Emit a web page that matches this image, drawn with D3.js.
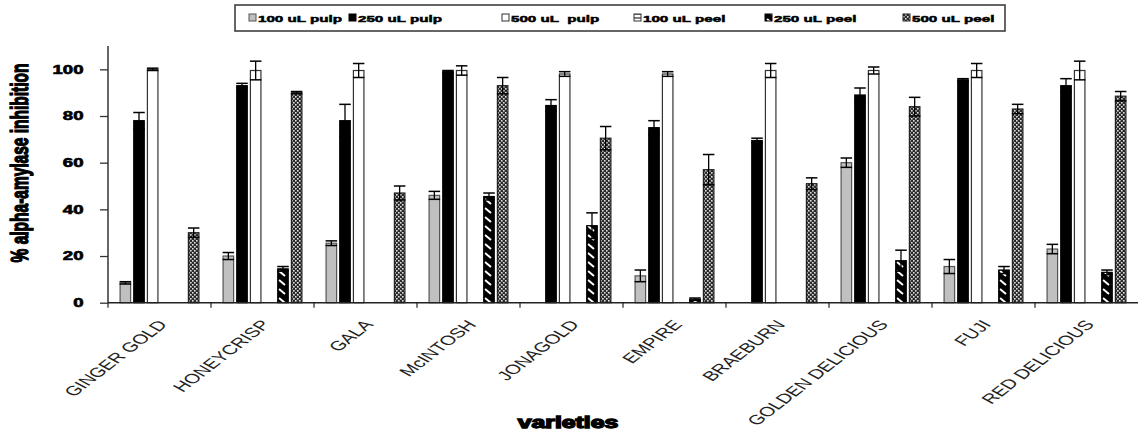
<!DOCTYPE html>
<html>
<head>
<meta charset="utf-8">
<script src="https://cdn.jsdelivr.net/npm/d3@7"></script>
<style>
  body { margin: 0; background: #fff; }
  text { font-family: "Liberation Sans", Arial, sans-serif; }
</style>
</head>
<body>
<div id="chart"></div>
<script>
// values
var varieties = ['GINGER GOLD', 'HONEYCRISP', 'GALA', 'McINTOSH', 'JONAGOLD', 'EMPIRE', 'BRAEBURN', 'GOLDEN DELICIOUS', 'FUJI', 'RED DELICIOUS'];
var seriesNames = ['100 uL pulp', '250 uL pulp', '500 uL  pulp', '100 uL peel', '250 uL peel', '500 uL peel'];

var pulp100 = [8.5, 20, 25.5, 46, 0, 11.5, 0, 60, 15.5, 23];
var pulp100Err = [0.5, 1.5, 1, 1.7, 0, 2.5, 0, 2, 3, 2];
var pulp250 = [78, 93, 78, 99, 84.5, 75, 69.5, 89, 95.5, 93];
var pulp250Err = [3.5, 1, 7, 0.5, 2.5, 3, 1, 3, 0.5, 3];
var pulp500 = [100, 99.5, 99.5, 99.5, 98, 98, 99.5, 99.5, 99.5, 99.5];
var pulp500Err = [0.5, 4, 3, 2, 1, 1, 3, 1.5, 3, 4];
var peel100 = [0, 0, 0, 0, 0, 0, 0, 0, 0, 0];
var peel100Err = [0, 0, 0, 0, 0, 0, 0, 0, 0, 0];
var peel250 = [0, 14.5, 0, 45.5, 33, 1.5, 0, 18, 14, 13];
var peel250Err = [0, 1, 0, 1.5, 5.5, 0.5, 0, 4.5, 1.5, 1];
var peel500 = [30, 90, 47, 93, 70.5, 57, 51, 84, 83, 88.5];
var peel500Err = [2, 0.5, 3, 3.5, 5, 6.5, 2.5, 4, 2, 2];

var yTicks = [0, 20, 40, 60, 80, 100];

var values = [pulp100, pulp250, pulp500, peel100, peel250, peel500];
var errors = [pulp100Err, pulp250Err, pulp500Err, peel100Err, peel250Err, peel500Err];

var w = 1138, h = 434;
var sx = 1.55; // the picture is stretched sideways, so is the text

var svg = d3.select('#chart').append('svg')
  .attr('width', w)
  .attr('height', h);

// fills
var defs = svg.append('defs');

var stripes = defs.append('pattern')
  .attr('id', 'stripes')
  .attr('patternUnits', 'userSpaceOnUse')
  .attr('width', 11).attr('height', 9);
stripes.append('rect').attr('width', 11).attr('height', 9).attr('fill', '#000');
stripes.append('line')
  .attr('x1', 2).attr('y1', 1).attr('x2', 8).attr('y2', 6)
  .attr('stroke', '#fff').attr('stroke-width', 2);

var checks = defs.append('pattern')
  .attr('id', 'checks')
  .attr('patternUnits', 'userSpaceOnUse')
  .attr('width', 4).attr('height', 4);
checks.append('rect').attr('width', 4).attr('height', 4).attr('fill', '#2a2a2a');
checks.append('rect').attr('x', 0).attr('y', 0).attr('width', 1.6).attr('height', 1.6).attr('fill', '#e0e0e0');
checks.append('rect').attr('x', 2).attr('y', 2).attr('width', 1.6).attr('height', 1.6).attr('fill', '#e0e0e0');

var hlines = defs.append('pattern')
  .attr('id', 'hlines')
  .attr('patternUnits', 'userSpaceOnUse')
  .attr('width', 4).attr('height', 4);
hlines.append('rect').attr('width', 4).attr('height', 4).attr('fill', '#fff');
hlines.append('line').attr('x1', 0).attr('y1', 2).attr('x2', 4).attr('y2', 2)
  .attr('stroke', '#000').attr('stroke-width', 1);

var fills = ['#c0c0c0', '#000', '#fff', 'url(#hlines)', 'url(#stripes)', 'url(#checks)'];
var strokes = ['#555', '#000', '#333', '#333', '#000', '#222'];

// scales
var x0 = d3.scaleBand()
  .domain(varieties)
  .range([108, 1138]);

var x1 = d3.scaleBand()
  .domain(d3.range(seriesNames.length))
  .range([0, x0.bandwidth()])
  .paddingInner(0.23)
  .paddingOuter(0.885);

var y = d3.scaleLinear()
  .domain([0, 110])
  .range([302.7, 46]);

var bw = x1.bandwidth();

// bars
var groups = svg.selectAll('.variety')
  .data(varieties)
  .enter()
  .append('g')
    .attr('class', 'variety')
    .attr('transform', d => 'translate(' + x0(d) + ',0)');

var bars = groups.selectAll('.bar')
  .data(function(d, i) {
    return seriesNames.map(function(s, j) {
      return { s: j, v: values[j][i], e: errors[j][i] };
    }).filter(b => b.v > 0);
  })
  .enter()
  .append('g')
    .attr('class', 'bar');

bars.append('rect')
  .attr('x', d => x1(d.s))
  .attr('y', d => y(d.v))
  .attr('width', bw)
  .attr('height', d => y(0) - y(d.v))
  .attr('fill', d => fills[d.s])
  .attr('stroke', d => strokes[d.s])
  .attr('stroke-width', 1.2);

// error bars
bars.append('line')
  .attr('x1', d => x1(d.s) + bw / 2)
  .attr('x2', d => x1(d.s) + bw / 2)
  .attr('y1', d => y(d.v - d.e))
  .attr('y2', d => y(d.v + d.e))
  .attr('stroke', '#000').attr('stroke-width', 1.3);

bars.selectAll('.cap')
  .data(d => [d.v - d.e, d.v + d.e].map(v => ({ s: d.s, v: v })))
  .enter()
  .append('line')
    .attr('class', 'cap')
    .attr('x1', d => x1(d.s) - 0.5)
    .attr('x2', d => x1(d.s) + bw + 0.5)
    .attr('y1', d => y(d.v))
    .attr('y2', d => y(d.v))
    .attr('stroke', '#000').attr('stroke-width', 1.5);

// y axis
var yAxis = d3.axisLeft(y)
  .tickValues(yTicks)
  .tickSize(8)
  .tickPadding(7.8);

var yG = svg.append('g')
  .attr('transform', 'translate(108,0)')
  .call(yAxis);
yG.select('.domain').attr('stroke', '#666').attr('stroke-width', 2).attr('d', 'M0,' + y(110) + 'V' + y(0));
yG.selectAll('.tick line').attr('stroke', '#333').attr('stroke-width', 1.3);
yG.selectAll('.tick text')
  .attr('font-size', 12)
  .attr('font-weight', 'bold')
  .attr('fill', '#000')
  .attr('stroke', '#000').attr('stroke-width', 0.6)
  .attr('transform', 'scale(' + sx + ',1)');

// x axis
svg.append('line')
  .attr('x1', 108).attr('x2', 1138)
  .attr('y1', y(0)).attr('y2', y(0))
  .attr('stroke', '#222').attr('stroke-width', 1.5);

svg.selectAll('.xtick')
  .data(varieties)
  .enter()
  .append('line')
    .attr('class', 'xtick')
    .attr('x1', d => x0(d)).attr('x2', d => x0(d))
    .attr('y1', y(0)).attr('y2', y(0) + 5)
    .attr('stroke', '#222').attr('stroke-width', 1.2);

svg.selectAll('.xlabel')
  .data(varieties)
  .enter()
  .append('text')
    .attr('class', 'xlabel')
    .attr('transform', d => 'translate(' + (x0(d) + x0.bandwidth() / 2 + 3) + ',322) scale(' + sx + ',1) rotate(-50)')
    .attr('text-anchor', 'end')
    .attr('dy', '0.35em')
    .attr('font-size', 13.4)
    .attr('fill', '#222')
    .text(d => d);

// axis titles
svg.append('text')
  .attr('transform', 'translate(28,163) scale(' + sx + ',1) rotate(-90)')
  .attr('text-anchor', 'middle')
  .attr('font-size', 15.5)
  .attr('font-weight', 'bold')
  .attr('stroke', '#000').attr('stroke-width', 0.9)
  .text('% alpha-amylase inhibition');

svg.append('text')
  .attr('transform', 'translate(568,428) scale(' + sx + ',1)')
  .attr('text-anchor', 'middle')
  .attr('font-size', 16)
  .attr('font-weight', 'bold')
  .attr('stroke', '#000').attr('stroke-width', 1.3)
  .text('varieties');

// legend
var legendX = [249, 349, 502, 634, 765, 903];

svg.append('rect')
  .attr('x', 235).attr('y', 5)
  .attr('width', 770).attr('height', 26)
  .attr('fill', '#fff')
  .attr('stroke', '#333').attr('stroke-width', 1.5);

var legend = svg.selectAll('.legend')
  .data(seriesNames)
  .enter()
  .append('g')
    .attr('class', 'legend')
    .attr('transform', (d, i) => 'translate(' + legendX[i] + ',0)');

legend.append('rect')
  .attr('x', 0).attr('y', 14)
  .attr('width', 7).attr('height', 7)
  .attr('fill', (d, i) => fills[i])
  .attr('stroke', (d, i) => strokes[i])
  .attr('stroke-width', 1);

legend.append('text')
  .attr('transform', 'translate(9,22) scale(' + sx + ',1)')
  .attr('font-size', 9.8)
  .attr('font-weight', 'bold')
  .attr('stroke', '#000').attr('stroke-width', 0.5)
  .attr('xml:space', 'preserve')
  .style('white-space', 'pre')
  .text(d => d);
</script>
</body>
</html>
